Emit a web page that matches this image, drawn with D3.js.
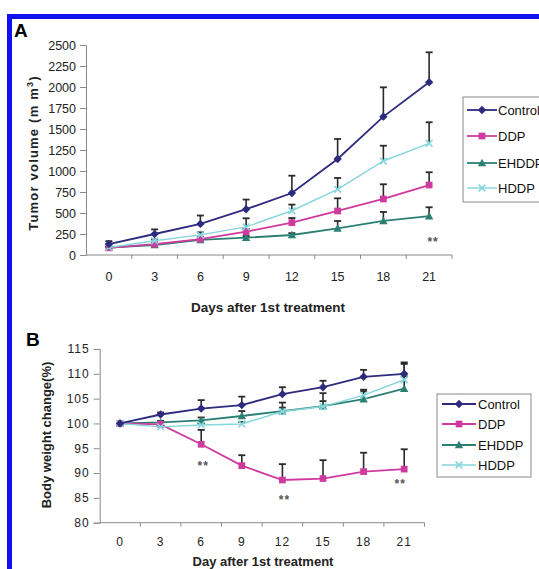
<!DOCTYPE html>
<html><head><meta charset="utf-8">
<script src="https://cdnjs.cloudflare.com/ajax/libs/d3/7.8.5/d3.min.js"></script>
<style>
html,body{margin:0;padding:0;background:#fff;}
svg{display:block;}
</style></head>
<body>
<script>
const days = ["0","3","6","9","12","15","18","21"];
const seriesNames = ["Control","DDP","EHDDP","HDDP"];
const colors = ["#2e2b7e","#cf3a9e","#2c8073","#86d6da"];
const markers = ["diamond","square","triangle","cross"];

// Panel A: tumor volume (mm3), mean and upper error bar top
const tumorControl = [130, 250, 370, 545, 738, 1143, 1647, 2056];
const tumorControlErr = [165, 305, 470, 660, 944, 1381, 1996, 2413];
const tumorDDP = [85, 130, 190, 277, 385, 524, 667, 833];
const tumorDDPErr = [95, 150, 215, 310, 440, 675, 842, 985];
const tumorEHDDP = [87, 119, 179, 206, 238, 317, 405, 464];
const tumorEHDDPErr = [95, 130, 195, 225, 260, 405, 512, 568];
const tumorHDDP = [90, 170, 240, 335, 527, 782, 1119, 1330];
const tumorHDDPErr = [100, 185, 270, 437, 600, 917, 1301, 1580];
const tumorTicks = [0,250,500,750,1000,1250,1500,1750,2000,2250,2500];

// Panel B: body weight change (%)
const bwControl = [100, 101.8, 103.0, 103.7, 105.9, 107.3, 109.4, 110.0];
const bwControlErr = [100, 102.2, 104.7, 105.4, 107.3, 108.6, 110.8, 112.3];
const bwDDP = [100, 99.8, 95.8, 91.5, 88.6, 88.9, 90.3, 90.8];
const bwDDPErr = [100, 100, 98.7, 93.6, 91.8, 92.6, 94.1, 94.8];
const bwEHDDP = [100, 100.2, 100.6, 101.5, 102.5, 103.5, 104.9, 107.0];
const bwEHDDPErr = [100, 100.5, 101.2, 102.5, 104.2, 106.1, 106.8, 112.0];
const bwHDDP = [100, 99.3, 99.7, 99.9, 102.4, 103.4, 105.7, 108.8];
const bwHDDPErr = [100, 99.5, 100, 100.3, 103.2, 104.5, 106.5, 109.5];
const bwTicks = [80,85,90,95,100,105,110,115];

const tumorSeries = [
  {name:"Control", v:tumorControl, e:tumorControlErr},
  {name:"DDP", v:tumorDDP, e:tumorDDPErr},
  {name:"EHDDP", v:tumorEHDDP, e:tumorEHDDPErr},
  {name:"HDDP", v:tumorHDDP, e:tumorHDDPErr}];
const bwSeries = [
  {name:"Control", v:bwControl, e:bwControlErr},
  {name:"DDP", v:bwDDP, e:bwDDPErr},
  {name:"EHDDP", v:bwEHDDP, e:bwEHDDPErr},
  {name:"HDDP", v:bwHDDP, e:bwHDDPErr}];

const W = 539, H = 569;
const svg = d3.select("body").append("svg").attr("width", W).attr("height", H);
const SANS = "'Liberation Sans', Arial, sans-serif";
const NARROW = "'Liberation Sans Narrow', 'Arial Narrow', 'Liberation Sans', sans-serif";

// blue frame
svg.append("rect").attr("x", 9.5).attr("y", 16.5).attr("width", 560).attr("height", 580)
  .attr("fill", "none").attr("stroke", "#1010f0").attr("stroke-width", 5);

function drawMarker(g, type, cx, cy, color, s) {
  if (type === "diamond") {
    g.append("path").attr("d", `M${cx},${cy-s}L${cx+s},${cy}L${cx},${cy+s}L${cx-s},${cy}Z`).attr("fill", color);
  } else if (type === "square") {
    g.append("rect").attr("x", cx-s*0.8).attr("y", cy-s*0.8).attr("width", s*1.6).attr("height", s*1.6).attr("fill", color);
  } else if (type === "triangle") {
    g.append("path").attr("d", `M${cx},${cy-s}L${cx+s},${cy+s*0.8}L${cx-s},${cy+s*0.8}Z`).attr("fill", color);
  } else {
    g.append("path").attr("d", `M${cx-s*0.8},${cy-s*0.8}L${cx+s*0.8},${cy+s*0.8}M${cx-s*0.8},${cy+s*0.8}L${cx+s*0.8},${cy-s*0.8}`)
      .attr("stroke", color).attr("stroke-width", 1.6).attr("fill", "none");
  }
}

function panel(opts) {
  const {series, x0, x1, y0, y1, domain, ticks, tickFont, tickLS, xTickY} = opts;
  const x = d3.scaleBand().domain(days).range([x0, x1]).padding(0);
  const y = d3.scaleLinear().domain(domain).range([y0, y1]);
  const g = svg.append("g");
  const axisColor = "#8a8a8a";
  const ya = g.append("g").attr("transform", `translate(${x0},0)`)
    .call(d3.axisLeft(y).tickValues(ticks).tickSize(6).tickPadding(opts.yPad).tickFormat(d3.format("d")));
  ya.select(".domain").attr("stroke", axisColor);
  ya.selectAll(".tick line").attr("stroke", axisColor);
  ya.selectAll("text").attr("font-family", SANS).attr("font-size", tickFont).attr("fill", "#222")
    .attr("letter-spacing", tickLS);
  const xa = g.append("g").attr("transform", `translate(0,${y0})`)
    .call(d3.axisBottom(x).tickSize(0).tickPadding(xTickY));
  xa.select(".domain").attr("stroke", axisColor).attr("d", `M${x0},0H${x1}`);
  xa.selectAll("text").attr("font-family", SANS).attr("font-size", tickFont).attr("fill", "#222")
    .attr("letter-spacing", tickLS);
  days.forEach((d, i) => {
    if (i > 0) g.append("line").attr("x1", x(d)).attr("x2", x(d)).attr("y1", y0).attr("y2", y0 + 4).attr("stroke", axisColor);
  });
  g.append("line").attr("x1", x1).attr("x2", x1).attr("y1", y0).attr("y2", y0 + 4).attr("stroke", axisColor);
  const cx = d => x(d) + x.bandwidth() / 2;
  series.forEach((s, si) => {
    s.v.forEach((v, i) => {
      const e = s.e[i];
      if (e - v <= 0) return;
      const px = cx(days[i]);
      g.append("line").attr("x1", px).attr("x2", px).attr("y1", y(v)).attr("y2", y(e)).attr("stroke", "#2a2a2a").attr("stroke-width", 1.6);
      g.append("line").attr("x1", px - 3.5).attr("x2", px + 3.5).attr("y1", y(e)).attr("y2", y(e)).attr("stroke", "#2a2a2a").attr("stroke-width", 1.8);
    });
  });
  const order = [2, 1, 3, 0];
  order.forEach(si => {
    const s = series[si];
    const line = d3.line().x((v, i) => cx(days[i])).y(v => y(v));
    g.append("path").attr("d", line(s.v)).attr("fill", "none").attr("stroke", colors[si]).attr("stroke-width", si === 3 ? 1.4 : 1.8);
    s.v.forEach((v, i) => drawMarker(g, markers[si], cx(days[i]), y(v), colors[si], 4.2));
  });
  return {x, y, cx, g};
}

function legend(x0, y0, w, h, rowY, lineX0, lineX1, textX, fs) {
  svg.append("rect").attr("x", x0).attr("y", y0).attr("width", w).attr("height", h)
    .attr("fill", "#fff").attr("stroke", "#8a8a8a").attr("stroke-width", 1);
  seriesNames.forEach((n, i) => {
    const yy = rowY[i];
    svg.append("line").attr("x1", lineX0).attr("x2", lineX1).attr("y1", yy).attr("y2", yy)
      .attr("stroke", colors[i]).attr("stroke-width", i === 3 ? 1.4 : 1.8);
    drawMarker(svg, markers[i], (lineX0 + lineX1) / 2, yy, colors[i], 4.2);
    svg.append("text").attr("x", textX).attr("y", yy).attr("dy", "0.36em")
      .attr("font-family", SANS).attr("font-size", fs).attr("fill", "#111").text(n);
  });
}

// ---- Panel A ----
const A = panel({series: tumorSeries, x0: 86, x1: 452, y0: 255, y1: 45, domain: [0, 2500],
  ticks: tumorTicks, tickFont: 12.5, tickLS: 0, xTickY: 17, yPad: 4});
svg.append("text").attr("x", 14).attr("y", 37).attr("font-family", SANS).attr("font-weight", "bold")
  .attr("font-size", 19).text("A");
const ylA = svg.append("text").attr("transform", "translate(38,153) rotate(-90)").attr("text-anchor", "middle")
  .attr("font-family", SANS).attr("font-weight", "bold").attr("font-size", 13).attr("letter-spacing", 1.2).attr("fill", "#222");
ylA.append("tspan").text("Tumor volume (m m");
ylA.append("tspan").attr("dy", -5).attr("font-size", 9).text("3");
ylA.append("tspan").attr("dy", 5).text(")");
svg.append("text").attr("x", 268).attr("y", 312).attr("text-anchor", "middle").attr("font-family", NARROW)
  .attr("font-weight", "bold").attr("font-size", 13.5).attr("fill", "#222").text("Days after 1st treatment");
svg.append("text").attr("x", A.cx("21") + 4).attr("y", 246).attr("text-anchor", "middle").attr("font-family", SANS)
  .attr("font-weight", "bold").attr("font-size", 12).attr("fill", "#555").attr("letter-spacing", 1).text("**");
legend(463, 97, 90, 105, [110, 136, 163, 188], 467, 497, 498, 13);

// ---- Panel B ----
const B = panel({series: bwSeries, x0: 99.7, x1: 424.5, y0: 522.7, y1: 349, domain: [80, 115],
  ticks: bwTicks, tickFont: 12, tickLS: 1, xTickY: 15, yPad: 4});
svg.append("text").attr("x", 26).attr("y", 346).attr("font-family", SANS).attr("font-weight", "bold")
  .attr("font-size", 19).text("B");
svg.append("text").attr("transform", "translate(51,435) rotate(-90)").attr("text-anchor", "middle")
  .attr("font-family", NARROW).attr("font-weight", "bold").attr("font-size", 13).attr("fill", "#222")
  .text("Body weight change(%)");
svg.append("text").attr("x", 263).attr("y", 566).attr("text-anchor", "middle").attr("font-family", NARROW)
  .attr("font-weight", "bold").attr("font-size", 13).attr("fill", "#222").text("Day after 1st treatment");
[["6", 470], ["12", 504], ["21", 488]].forEach(([d, yy]) => {
  svg.append("text").attr("x", B.cx(d) + (d === "21" ? -4 : 2)).attr("y", yy).attr("text-anchor", "middle")
    .attr("font-family", SANS).attr("font-weight", "bold").attr("font-size", 12).attr("fill", "#555")
    .attr("letter-spacing", 1).text("**");
});
legend(437, 394, 94, 83, [404, 424, 445, 465], 442, 476, 478, 13);
</script>
</body></html>
